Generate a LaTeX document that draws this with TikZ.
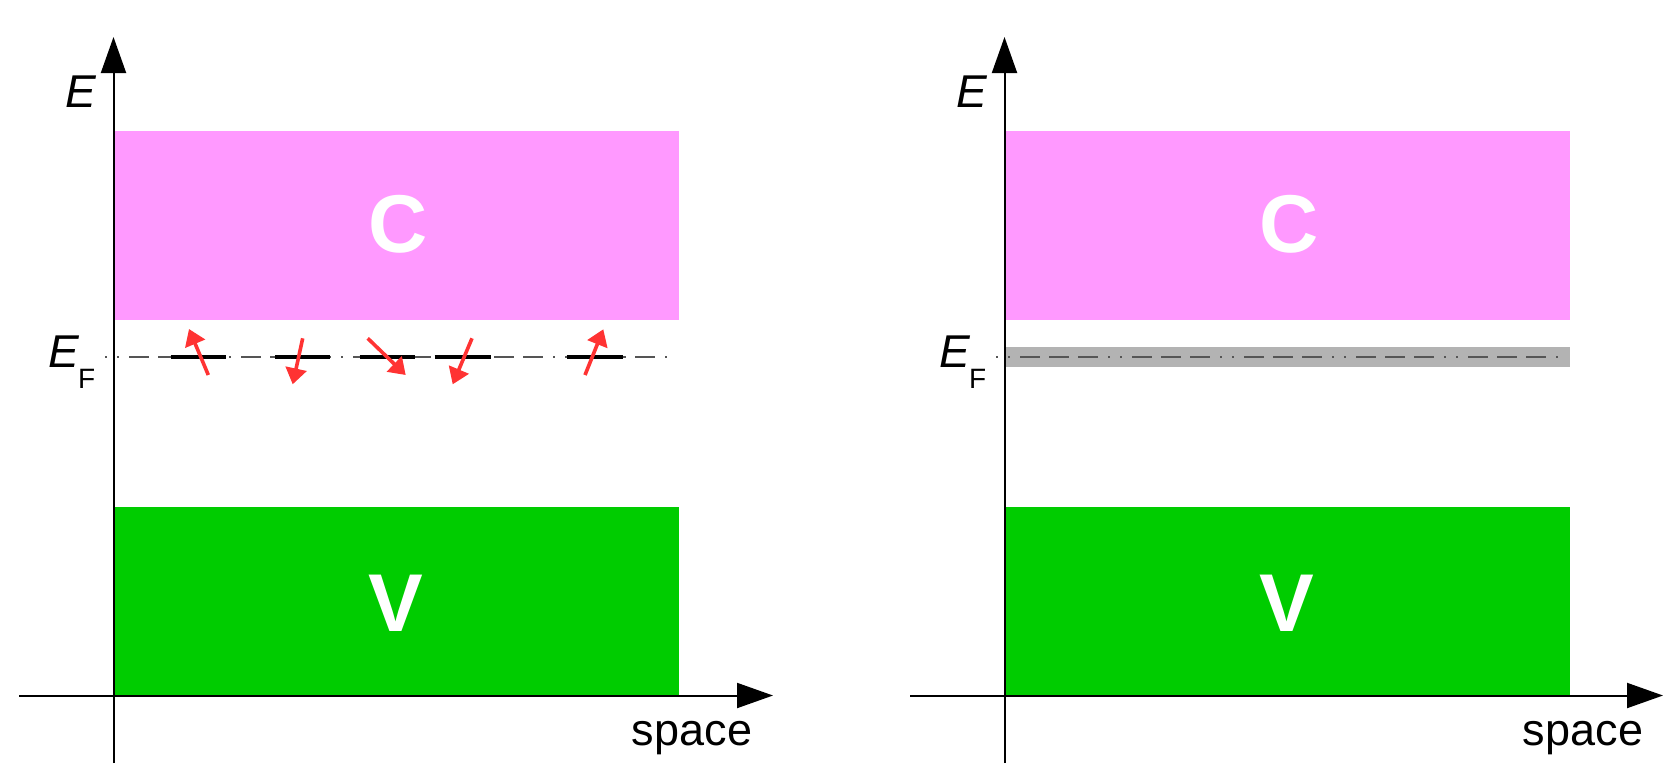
\documentclass[tikz,border=0pt]{standalone}
\usepackage{fontspec}
\setmainfont{Liberation Sans}
\usetikzlibrary{arrows.meta}
\definecolor{cpink}{HTML}{FF99FF}
\definecolor{cgreen}{HTML}{00CC00}
\definecolor{cband}{HTML}{B3B3B3}
\definecolor{cdash}{HTML}{555555}
\definecolor{cspin}{HTML}{FF3333}
\tikzset{
 axisline/.style={line width=2pt, -{Triangle[length=36pt,width=25pt]}},
 bandlabel/.style={text=white, font=\fontsize{82}{90}\selectfont\bfseries, inner sep=0pt},
 elabel/.style={font=\fontsize{46}{50}\selectfont\itshape, inner sep=0pt},
 sublabel/.style={font=\fontsize{28}{30}\selectfont, inner sep=0pt},
 fermi/.style={cdash, line width=2pt, dash pattern=on 2pt off 10pt on 2pt off 10pt on 20pt off 9pt on 20pt off 9pt on 20pt off 10pt},
 level/.style={line width=4pt, black},
 spin/.style={cspin, line width=3.6pt, -{Triangle[length=16pt,width=21pt]}},
 spacelabel/.style={font=\fontsize{45}{50}\selectfont, inner sep=0pt, anchor=base}
}
\begin{document}
\begin{tikzpicture}[x=1pt,y=-1pt]
\useasboundingbox (0,0) rectangle (1664,763);
% ---------- left panel ----------
\fill[cpink] (113.5,130.5) rectangle (679,319.5);
\fill[cgreen] (113.5,507) rectangle (679,695.5);
\node[bandlabel] (C1) at (398,224) {C};
\node[bandlabel] (V1) at (396,603) {V};
\coordinate (f1a) at (105,356.7);
\coordinate (f1b) at (677,356.7);
\draw[fermi] (f1a) -- (f1b);
\coordinate (ya1) at (113.5,763);
\coordinate (yt1) at (113.5,37);
\coordinate (xa1) at (19,695.5);
\coordinate (xt1) at (773,695.5);
\draw[axisline] (ya1) -- (yt1);
\draw[axisline] (xa1) -- (xt1);
% levels
\coordinate (l1a) at (170.5,356.7); \coordinate (l1b) at (226,356.7);
\coordinate (l2a) at (275,356.7); \coordinate (l2b) at (330,356.7);
\coordinate (l3a) at (359.5,356.7); \coordinate (l3b) at (415,356.7);
\coordinate (l4a) at (434.5,356.7); \coordinate (l4b) at (490.5,356.7);
\coordinate (l5a) at (566.5,356.7); \coordinate (l5b) at (622.5,356.7);
\draw[level] (l1a) -- (l1b);
\draw[level] (l2a) -- (l2b);
\draw[level] (l3a) -- (l3b);
\draw[level] (l4a) -- (l4b);
\draw[level] (l5a) -- (l5b);
% spins
\coordinate (s1a) at (208.3,375); \coordinate (s1b) at (189,329);
\coordinate (s2a) at (302.7,338.3); \coordinate (s2b) at (292.7,384.3);
\coordinate (s3a) at (367.7,338.3); \coordinate (s3b) at (405.7,375);
\coordinate (s4a) at (472,338.3); \coordinate (s4b) at (452.7,384.3);
\coordinate (s5a) at (585,375); \coordinate (s5b) at (603.3,329.3);
\draw[spin] (s1a) -- (s1b);
\draw[spin] (s2a) -- (s2b);
\draw[spin] (s3a) -- (s3b);
\draw[spin] (s4a) -- (s4b);
\draw[spin] (s5a) -- (s5b);
\node[elabel] (E1) at (80.5,91.5) {E};
\node[elabel] (EF1) at (64,352) {E};
\node[sublabel] (F1) at (86.7,379) {F};
\node[spacelabel] (sp1) at (692,745) {space};
% ---------- right panel ----------
\fill[cpink] (1004.5,130.5) rectangle (1570,319.5);
\fill[cgreen] (1004.5,507) rectangle (1570,695.5);
\fill[cband] (1004.5,347) rectangle (1570,366.5);
\node[bandlabel] (C2) at (1289,224) {C};
\node[bandlabel] (V2) at (1287,603) {V};
\coordinate (f2a) at (996,356.7);
\coordinate (f2b) at (1568,356.7);
\draw[fermi] (f2a) -- (f2b);
\coordinate (ya2) at (1004.5,763);
\coordinate (yt2) at (1004.5,37);
\coordinate (xa2) at (910,695.5);
\coordinate (xt2) at (1663,695.5);
\draw[axisline] (ya2) -- (yt2);
\draw[axisline] (xa2) -- (xt2);
\node[elabel] (E2) at (971.5,91.5) {E};
\node[elabel] (EF2) at (955,352) {E};
\node[sublabel] (F2) at (977.7,379) {F};
\node[spacelabel] (sp2) at (1583,745) {space};
\end{tikzpicture}
\end{document}
